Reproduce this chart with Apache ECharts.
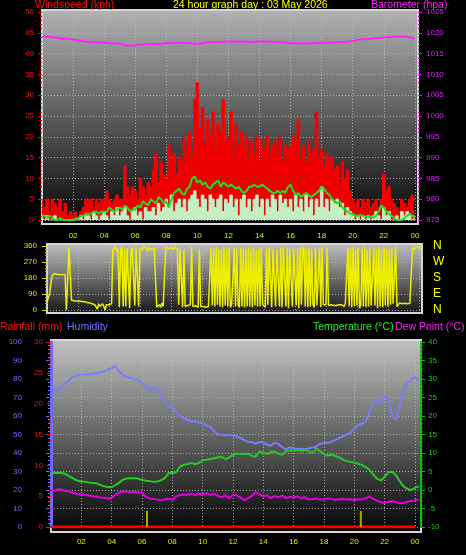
<!DOCTYPE html>
<html><head><meta charset="utf-8">
<script src="https://cdn.jsdelivr.net/npm/echarts@6/dist/echarts.min.js"></script>
<style>html,body{margin:0;padding:0;background:#000}#c{width:466px;height:555px}</style>
</head><body><div id="c"></div>
<script>
// ---- Data ----
// 10-minute samples starting 00:00
const windGust = [5,3,5,2,5,4, 3,5,2,4,1,2, 1,2,0,2,3,5, 5,5,3,5,4,5, 5,7,5,4,5,6, 5,5,13,8,6,8,
 7,5,10,8,6,9, 8,12,16,9,14,11, 10,18,13,16,11,15, 14,20,17,21,16,29, 33,22,27,18,24,20, 26,17,23,21,29,19,
 20,26,15,23,18,21, 17,20,15,19,16,20, 14,19,17,20,15,18, 19,16,20,14,18,17, 18,20,19,24,15,18, 14,19,16,17,26,15,
 17,13,16,14,15,12, 13,9,14,10,12,7, 5,4,5,3,5,4, 5,3,4,5,3,5, 11,7,8,5,4,3, 2,5,4,3,5,6, 4];
const windSpeed = [1,0,1,0,0,1, 0,0,0,0,0,0, 0,0,0,1,0,1, 1,0,2,1,0,1, 2,1,0,2,1,3, 1,2,3,1,0,2,
 3,1,2,0,3,2, 2,3,1,4,2,3, 5,3,6,2,4,5, 3,5,2,5,6,7, 5,3,6,5,2,6, 5,3,5,6,2,5,
 4,6,3,5,1,5, 6,3,5,2,5,6, 3,5,1,5,3,6, 5,2,6,4,5,3, 5,2,6,3,5,2, 6,3,5,1,5,3,
 8,3,5,2,5,4, 5,3,4,1,3,2, 1,0,1,0,1,0, 1,0,1,2,1,0, 3,1,2,0,0,1, 0,2,1,2,1,0, 1];
const windAvg = [1,1,0.5,1,0.5,0, 0,0.5,0,0,0,0, 0,0.3,0.5,1,1,1.5, 1.5,1.5,2,2,1.5,2, 2,2,3,2.5,2,2.5, 3,2.5,3.5,3,2,2.5,
 2.5,3.5,3,4.5,4,3.5, 5,4.5,4,5.5,5,4, 4.5,3,5,6.5,7,7.5, 6.5,6,7.5,8,10,10.5, 9,9.5,8.5,9,8,7.5, 8.5,9,9.5,8,9,8.5,
 8,8.5,8,7.5,8,7, 6.5,7,8,8,8.5,8, 8,8.5,8,7.5,7,6.5, 6.5,7,6.5,7,6.5,8, 8.5,7,6,6.5,5.5,6, 6.5,6,5.5,6,6.5,7,
 8,7.5,6.5,6,5,4.5, 4,4.5,3,2.5,2,1.5, 1.5,1,1,1.2,1,0.8, 0.7,0.8,0.5,1,2,3.5, 3,2,1.5,1,0.5,0, 0,0,0.5,1,1.5,1, 0.5];
// 30-minute samples (hPa)
const barometer = [1019.1,1019.0,1018.8,1018.6,1018.4,1018.1,1017.8,1017.7,1017.6,1017.5,1017.4,1016.9,1017.0,1017.2,
 1017.3,1017.3,1017.5,1017.6,1017.6,1017.5,1017.3,1017.6,1017.8,1017.8,1017.9,1017.9,1017.9,1017.8,1017.9,1017.9,
 1017.8,1017.7,1017.5,1017.5,1017.4,1017.5,1017.6,1017.6,1017.7,1017.8,1018.0,1018.4,1018.5,1018.7,1018.9,1019.0,
 1019.1,1019.0,1018.7];
// 5-minute samples, degrees
const windDir = [
 45,50,90,150,195,205,205,200,200,200,200,200,
 200,198,200,0,0,350,340,55,55,52,50,50,
 50,50,50,48,48,46,45,42,40,40,38,35,
 30,30,25,5,35,20,10,35,20,0,30,25,
 30,20,35,340,350,355,330,345,15,340,355,20,
 340,20,350,345,10,330,350,345,25,350,340,20,
 345,350,340,355,350,345,330,350,355,340,345,350,
 345,15,20,30,15,40,20,25,355,350,345,340,
 350,345,340,355,350,340,30,345,350,15,340,20,
 15,25,20,30,355,20,30,25,20,15,340,20,
 25,20,30,15,25,20,15,350,25,345,20,355,
 30,340,20,345,15,355,25,340,20,350,15,30,
 25,350,20,345,30,15,350,20,345,15,340,20,
 350,20,345,15,355,25,340,20,345,20,355,30,
 20,15,340,30,355,350,15,345,355,20,340,350,
 20,350,15,355,345,20,350,10,345,355,20,345,
 355,25,345,10,350,30,340,355,20,345,15,350,
 20,340,30,15,350,25,20,345,15,355,30,20,
 30,350,25,15,30,20,25,20,25,15,30,25,
 30,25,20,35,25,350,20,345,15,355,20,340,
 25,350,10,30,345,20,355,15,340,20,350,25,
 15,350,25,340,10,355,20,345,15,350,25,345,
 20,345,30,350,35,25,355,20,30,40,38,35,
 35,38,40,35,36,38,40,350,355,345,350,355,
 350,345,355];
const dirLabels = {0:'N',90:'E',180:'S',270:'W',360:'N'};
// 15-minute samples
const humidity = [75.5,74,74.5,76,78,80,81,82,82.5,82.5,82.5,83,83,83.5,84,85,86,87,84,82,81,80.5,80,79.5,78,75.5,75,75,74.5,72,
 67,65,64.5,62,60,58.5,58,57,57,56.5,56,55,54,52,50,50,49.5,50,49.5,49,48,47,46,46,45,46,46,44.5,44,45.5,
 45,43,42,43,42.5,42,42.5,42,42.5,43,43.5,45,45.5,45.5,46,47,48,49,50,51,53,55,56,57,62,67,69,67,71,69,
 60,58,66,74,78,80,81,79];
const temperature = [4.7,4.6,4.6,4.6,4.2,3.6,3.0,2.5,2.3,2.2,2.0,1.9,1.8,1.4,1.0,0.8,0.8,1.3,2.0,2.8,3.1,3.2,3.2,3.1,2.7,2.5,2.4,2.2,2.3,2.6,
 3.2,4.6,4.6,4.8,6.3,6.8,7.0,7.3,7.0,7.3,8.1,8.2,8.4,8.6,8.8,9.0,8.3,8.8,9.5,9.8,9.8,9.7,9.8,9.2,9.0,10.4,10.0,9.8,10.2,10.4,
 9.8,9.5,10.5,10.7,10.6,10.8,10.6,10.8,10.5,10.0,11.3,10.5,9.7,9.3,9.5,9.2,8.8,8.2,7.8,7.6,7.4,7.1,6.8,6.2,5.4,4.2,3.0,2.6,3.5,4.8,
 4.9,4.0,2.3,1.0,0.3,0.0,0.6,1.0];
const dewPoint = [0.0,-0.2,0.2,0.0,-0.3,-0.5,-0.8,-1.1,-1.2,-1.3,-1.5,-1.7,-1.8,-2.0,-2.1,-2.3,-2.1,-1.3,-0.7,-0.5,-0.5,-0.6,-0.5,-0.7,-0.8,-1.8,-2.3,-2.4,-2.6,-2.8,
 -2.5,-2.3,-2.6,-1.7,-1.4,-1.2,-1.3,-1.0,-1.4,-1.0,-1.2,-0.9,-1.3,-1.0,-1.6,-2.0,-1.4,-2.2,-1.3,-1.5,-2.0,-2.8,-2.2,-1.6,-0.6,-1.2,-1.8,-1.4,-2.2,-1.6,
 -2.0,-1.5,-2.2,-1.8,-2.1,-1.7,-2.3,-1.9,-2.6,-2.4,-2.3,-2.6,-2.5,-2.2,-2.4,-2.7,-2.5,-2.4,-2.6,-2.5,-2.7,-2.5,-2.6,-2.2,-1.8,-2.4,-2.9,-3.3,-3.5,-3.2,
 -3.0,-3.3,-3.6,-3.5,-3.2,-3.0,-2.8,-2.6];
// hourly rainfall total (mm)
const rainfall = [0,0,0,0,0,0,0,0,0,0,0,0,0,0,0,0,0,0,0,0,0,0,0,0,0];
// rain events: [hour, value]
const rainRate = [[6.33,2.6],[20.43,2.6]];

// ---- Build ----
const pairs = (arr, stepH) => arr.map((v,i)=>[i*stepH, v]);
const FONT = 'Liberation Sans, Arial, sans-serif';
const fmtHour = v => (Math.abs(v-Math.round(v))<1e-6 && v>0 && Math.round(v)%2===0) ? String(Math.round(v)%24).padStart(2,'0') : '';
const plain = v => String(v);
const grad = (a,b) => ({type:'linear',x:0,y:0,x2:0,y2:1,colorStops:[{offset:0,color:a},{offset:1,color:b}]});
const dotted = {show:true, lineStyle:{color:'#bdbdbd', type:[1,2], width:1, opacity:0.85}};

const chart = echarts.init(document.getElementById('c'), null, {renderer:'canvas'});
const ttl = (text,left,top,color) => ({text,left,top,padding:0,textStyle:{color,fontSize:10.5,fontWeight:'normal',fontFamily:FONT}});
chart.setOption({
  animation:false,
  backgroundColor:'#000',
  title:[
    ttl('Windspeed (kph)',35,0,'#ff1010'),
    ttl('24 hour graph day : 03 May 2026',173,0,'#ffff00'),
    ttl('Barometer (hpa)',371,0,'#ff20ff'),
    ttl('Rainfall (mm)',0,322,'#ff1010'),
    ttl('Humidity',67,322,'#7474ff'),
    ttl('Temperature (°C)',313,322,'#20f020'),
    ttl('Dew Point (°C)',395,322,'#ff20ff')
  ],
  graphic:[
    {type:'rect', z:-10, shape:{x:42,y:10,width:376,height:214}, style:{fill:grad('#b2b2b2','#050505'), stroke:'#d8d8d8', lineWidth:2}},
    {type:'rect', z:-10, shape:{x:47,y:244,width:375,height:69}, style:{fill:grad('#c0c0c0','#151515'), stroke:'#d8d8d8', lineWidth:2}},
    {type:'rect', z:-10, shape:{x:51,y:340,width:370,height:192}, style:{fill:grad('#c2c2c2','#030303'), stroke:'#d8d8d8', lineWidth:2}}
  ],
  grid:[
    {left:42, top:12, width:376, height:208},
    {left:47, top:246, width:375, height:64},
    {left:51, top:342, width:370, height:185}
  ],
  xAxis:[
    {type:'value', gridIndex:0, min:0, max:24.2, interval:2, axisLine:{show:false}, axisTick:{show:false},
     axisLabel:{color:'#e8e800', fontSize:8, fontFamily:FONT, margin:12, formatter:fmtHour, showMaxLabel:true}, splitLine:dotted},
    {type:'value', gridIndex:1, min:0, max:24.2, interval:2, axisLine:{show:false}, axisTick:{show:false},
     axisLabel:{show:false}, splitLine:dotted},
    {type:'value', gridIndex:2, min:0, max:24.4, interval:2, axisLine:{show:false}, axisTick:{show:false},
     axisLabel:{color:'#e8e800', fontSize:8, fontFamily:FONT, margin:11, formatter:fmtHour}, splitLine:dotted}
  ],
  yAxis:[
    {type:'value', gridIndex:0, position:'left', min:0, max:50, interval:5,
     axisLine:{show:false}, axisTick:{show:true, length:4, lineStyle:{color:'#ff0000'}},
     minorTick:{show:true, splitNumber:5, length:2, lineStyle:{color:'#cc0000'}},
     axisLabel:{color:'#ff1010', fontSize:8, fontFamily:FONT, margin:8, formatter:plain}, splitLine:dotted},
    {type:'value', gridIndex:0, position:'right', min:975, max:1025, interval:5,
     axisLine:{show:false}, axisTick:{show:true, length:4, lineStyle:{color:'#ff00ff'}},
     minorTick:{show:true, splitNumber:5, length:2, lineStyle:{color:'#cc00cc'}},
     axisLabel:{color:'#e020ff', fontSize:8, fontFamily:FONT, margin:8, formatter:plain}, splitLine:{show:false}},
    {type:'value', gridIndex:1, position:'left', min:0, max:360, interval:90,
     axisLine:{show:false}, axisTick:{show:true, length:5, lineStyle:{color:'#e0e000'}},
     minorTick:{show:true, splitNumber:5, length:2, lineStyle:{color:'#c0c000'}},
     axisLabel:{color:'#e0e000', fontSize:8, fontFamily:FONT, margin:10, formatter:plain}, splitLine:dotted},
    {type:'value', gridIndex:1, position:'right', min:0, max:360, interval:90,
     axisLine:{show:false}, axisTick:{show:false}, splitLine:{show:false},
     axisLabel:{color:'#ffff00', fontSize:12, fontFamily:FONT, margin:11, formatter:v=>dirLabels[v]||''}},
    {type:'value', gridIndex:2, position:'left', offset:21, min:0, max:100, interval:10,
     axisLine:{show:true, lineStyle:{color:'#6c6cff', width:3}},
     axisTick:{show:true, length:5, lineStyle:{color:'#6c6cff'}},
     minorTick:{show:true, splitNumber:5, length:3, lineStyle:{color:'#6c6cff'}},
     axisLabel:{color:'#7070ff', fontSize:8, fontFamily:FONT, margin:8, formatter:plain}, splitLine:dotted},
    {type:'value', gridIndex:2, position:'left', offset:0, min:0, max:30, interval:5,
     axisLine:{show:false}, axisTick:{show:true, length:4, lineStyle:{color:'#ff0000'}},
     minorTick:{show:true, splitNumber:5, length:2, lineStyle:{color:'#cc0000'}},
     axisLabel:{color:'#ff1010', fontSize:8, fontFamily:FONT, margin:8, formatter:plain}, splitLine:{show:false}},
    {type:'value', gridIndex:2, position:'right', min:-10, max:40, interval:5,
     axisLine:{show:true, lineStyle:{color:'#10c010', width:2}},
     axisTick:{show:true, length:4, lineStyle:{color:'#10c010'}},
     minorTick:{show:true, splitNumber:5, length:2, lineStyle:{color:'#10a010'}},
     axisLabel:{color:'#10d010', fontSize:8, fontFamily:FONT, margin:7, formatter:plain}, splitLine:{show:false}}
  ],
  series:[
    {name:'Gust', type:'line', xAxisIndex:0, yAxisIndex:0, step:'middle', symbol:'none',
     lineStyle:{color:'#ff0000', width:1}, areaStyle:{color:'#ee0000', opacity:1}, data:pairs(windGust,1/6)},
    {name:'Speed', type:'line', xAxisIndex:0, yAxisIndex:0, step:'middle', symbol:'none',
     lineStyle:{color:'#c4efc4', width:1}, areaStyle:{color:'#c4efc4', opacity:1}, data:pairs(windSpeed,1/6)},
    {name:'Average', type:'line', xAxisIndex:0, yAxisIndex:0, symbol:'none',
     lineStyle:{color:'#22dd22', width:2}, data:pairs(windAvg,1/6)},
    {name:'Barometer', type:'line', xAxisIndex:0, yAxisIndex:1, symbol:'none',
     lineStyle:{color:'#ff22ff', width:2}, data:pairs(barometer,0.5)},
    {name:'Direction', type:'line', xAxisIndex:1, yAxisIndex:2, symbol:'none',
     lineStyle:{color:'#eeee00', width:1.5}, data:pairs(windDir,1/12)},
    {name:'Humidity', type:'line', xAxisIndex:2, yAxisIndex:4, symbol:'none',
     lineStyle:{color:'#7b7bff', width:2}, data:pairs(humidity,0.25)},
    {name:'Temperature', type:'line', xAxisIndex:2, yAxisIndex:6, symbol:'none',
     lineStyle:{color:'#22cc22', width:2}, data:pairs(temperature,0.25)},
    {name:'Dew Point', type:'line', xAxisIndex:2, yAxisIndex:6, symbol:'none',
     lineStyle:{color:'#e000e0', width:2}, data:pairs(dewPoint,0.25)},
    {name:'Rainfall', type:'line', xAxisIndex:2, yAxisIndex:5, symbol:'none',
     lineStyle:{color:'#ff0000', width:3}, data:pairs(rainfall,1), z:3},
    {name:'Rain rate', type:'bar', xAxisIndex:2, yAxisIndex:5, barWidth:2,
     itemStyle:{color:'#b4a400'}, data:rainRate, z:4}
  ]
});
</script>
</body></html>
